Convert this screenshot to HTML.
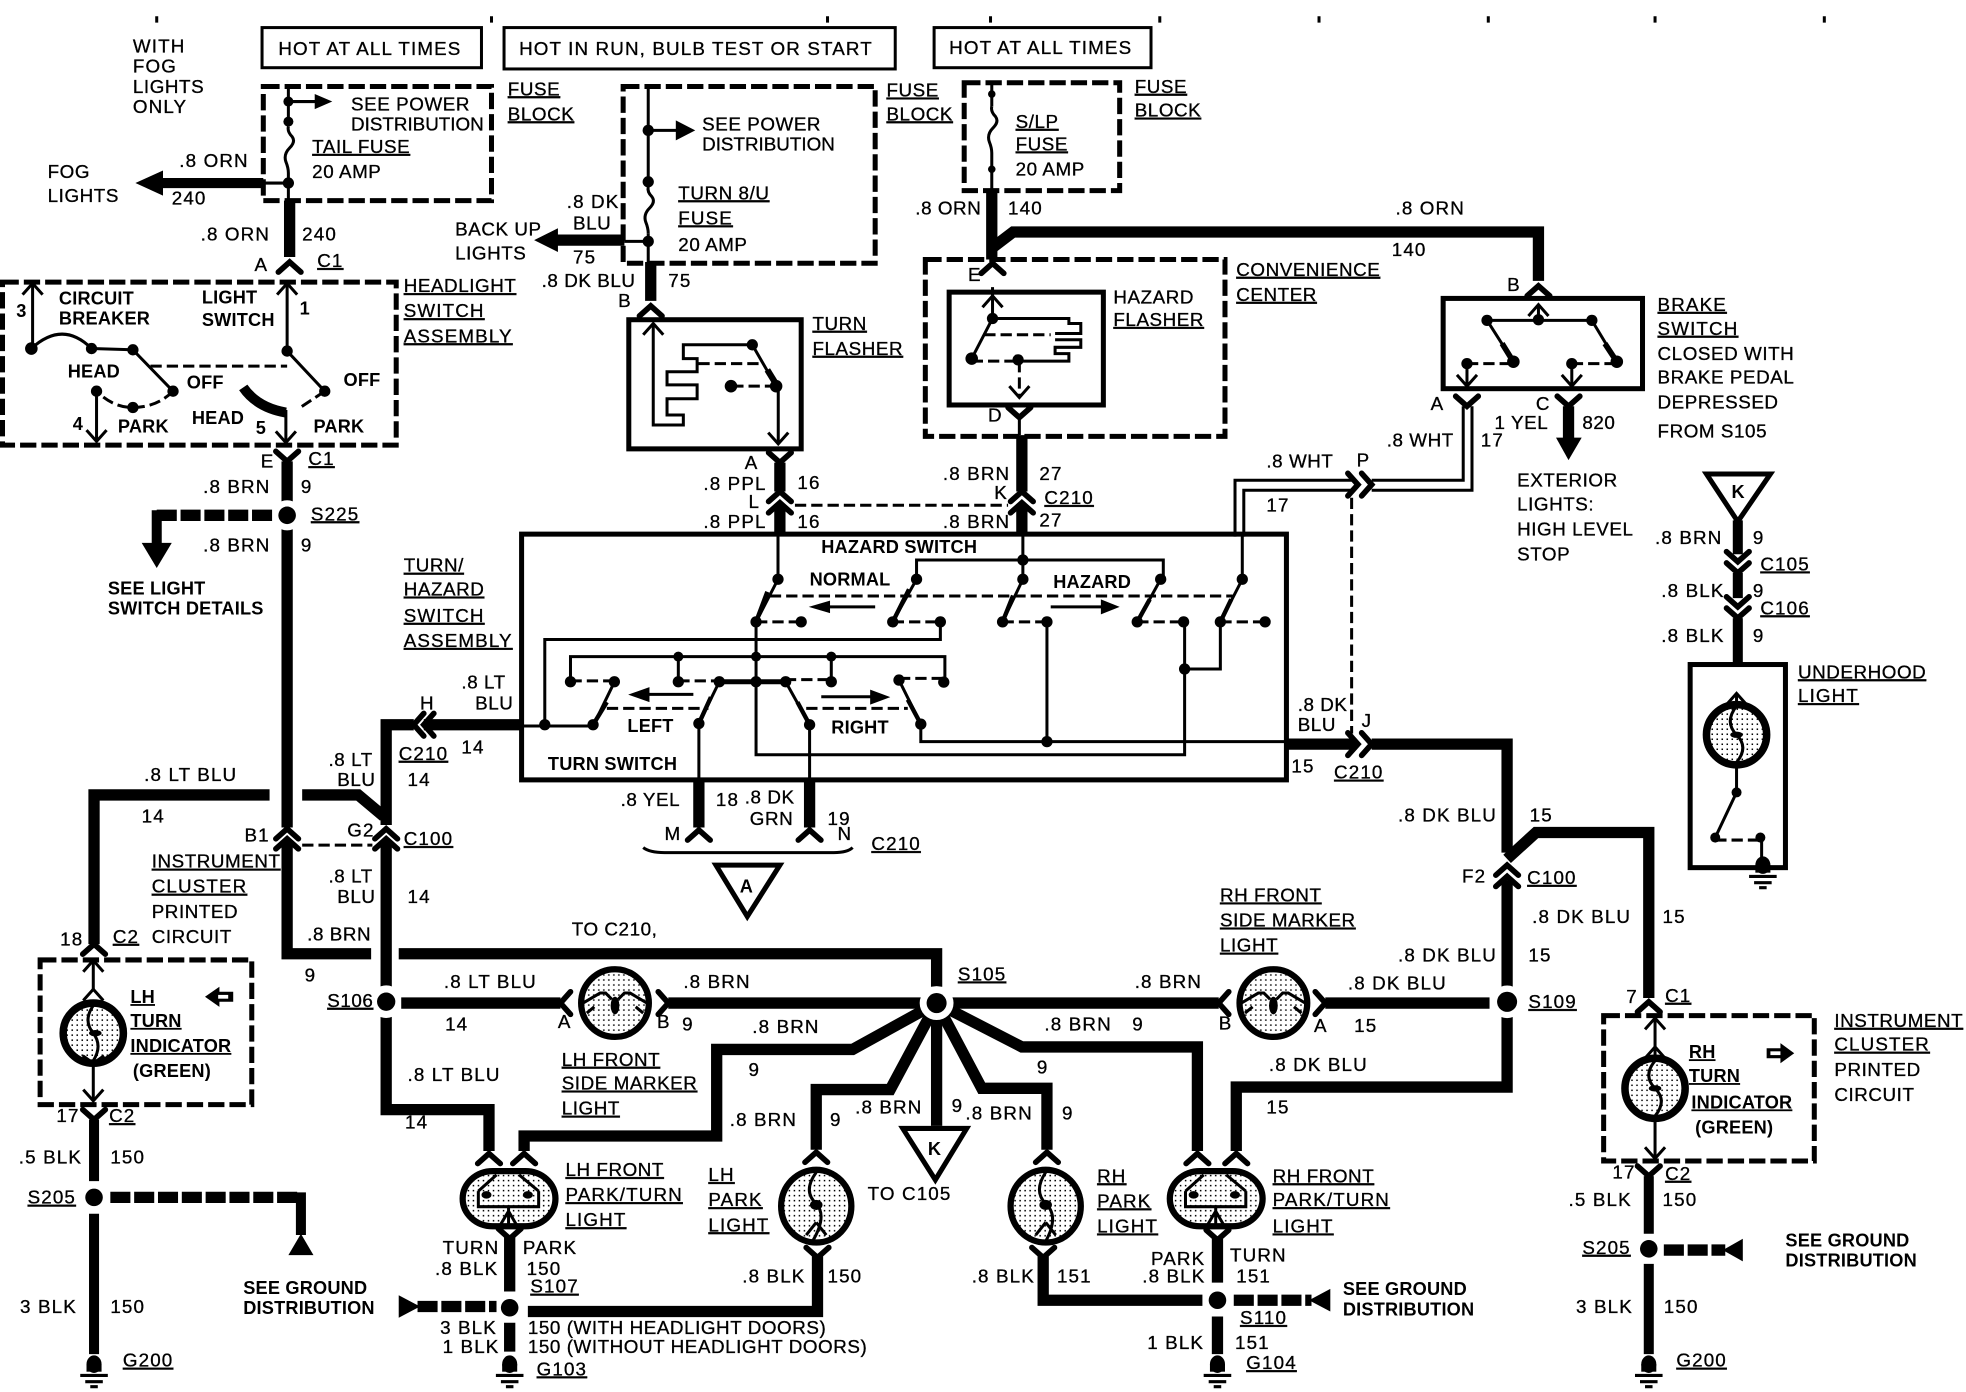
<!DOCTYPE html>
<html><head><meta charset="utf-8"><style>
html,body{margin:0;padding:0;background:#fff}
svg{display:block}
text{font-family:"Liberation Sans",sans-serif;font-size:15px;letter-spacing:.9px;fill:#000;stroke:#000;stroke-width:.25px}
.n{letter-spacing:.45px}
.nn{letter-spacing:0}
.b{font-weight:bold;stroke:none;font-size:14.5px;letter-spacing:.15px}
.u{text-decoration:underline;text-decoration-thickness:2px;text-underline-offset:3px}
.w{fill:none;stroke:#000;stroke-width:9;stroke-linejoin:miter}
.m{fill:none;stroke:#000;stroke-width:8}
.t{fill:none;stroke:#000;stroke-width:2.4}
.bx{fill:none;stroke:#000;stroke-width:4}
.d{fill:none;stroke:#000;stroke-width:4;stroke-dasharray:13 4}
.dt{fill:none;stroke:#000;stroke-width:2.4;stroke-dasharray:9 4}
.hd{fill:none;stroke:#000;stroke-width:9;stroke-dasharray:16 3}
.f{fill:none;stroke:#000;stroke-width:4.5;stroke-linecap:round}
</style></head><body>
<svg width="1966" height="1392" viewBox="0 0 1568 1110.2" xmlns="http://www.w3.org/2000/svg">
<defs>
<path id="fu" class="f" d="M-9,6 L0,-2 L9,6"/>
<path id="fd" class="f" d="M-9,-6 L0,2 L9,-6"/>
<path id="fl" class="f" d="M6,-9 L-2,0 L6,9"/>
<path id="fr" class="f" d="M-6,-9 L2,0 L-6,9"/>
<path id="au" class="t" d="M-8,9 L0,0 L8,9"/>
<path id="ad" class="t" d="M-8,-9 L0,0 L8,-9"/>
<g id="gnd"><ellipse cx="0" cy="-4" rx="6" ry="7"/><rect x="-6" y="-4" width="12" height="6"/><path d="M-11,5H11M-7,10H7M-3,14H3" stroke="#000" stroke-width="2.5" fill="none"/></g>
<pattern id="st" width="4" height="4" patternUnits="userSpaceOnUse"><rect x="1" y="1" width="1.2" height="1.2" fill="#000"/></pattern>
<path id="fz" class="t" d="M0,0 q-1,4 3,8 q3,4 -2,9 q-5,5 -3,11 q2,5 2,9"/>
</defs>

<!-- top ticks -->
<path class="t" stroke-width="1" d="M125,13v5M392,13v5M660,13v5M790,13v5M925,13v5M1052,13v5M1187,13v5M1320,13v5M1455,13v5"/>

<!-- header boxes -->
<rect x="209" y="22" width="175" height="32" class="t"/>
<rect x="402" y="22" width="312" height="33" class="t"/>
<rect x="745" y="22" width="173" height="32" class="t"/>
<text x="222" y="44">HOT AT ALL TIMES</text>
<text x="414" y="44">HOT IN RUN, BULB TEST OR START</text>
<text x="757" y="43">HOT AT ALL TIMES</text>
<text x="106" y="42">WITH</text><text x="106" y="58">FOG</text><text x="106" y="74" class="n">LIGHTS</text><text x="106" y="90">ONLY</text>

<!-- fuse 1 -->
<rect x="210" y="69" width="182" height="91" class="d"/>
<path class="t" d="M230,69V101M230,138V160M230,81H252"/><polygon points="265,81 251,75 251,87"/>
<use href="#fz" x="230" y="101"/>
<circle cx="230" cy="81" r="4"/><circle cx="230" cy="97" r="4"/><circle cx="230" cy="146" r="4.5"/>
<path class="m" d="M210,146H125"/><path class="t" stroke-width="5" d="M210,146H230"/><polygon points="108,146 130,136 130,156"/>
<path class="w" d="M231,160V205"/>
<use href="#fu" x="231" y="211"/>
<text x="280" y="88" class="n">SEE POWER</text><text x="280" y="104" class="nn">DISTRIBUTION</text>
<text x="249" y="122" class="u n">TAIL FUSE</text><text x="249" y="142" class="n">20 AMP</text>
<text x="405" y="76" class="u n">FUSE</text><text x="405" y="96" class="u n">BLOCK</text>
<text x="143" y="133">.8 ORN</text><text x="137" y="163">240</text>
<text x="38" y="142" class="n">FOG</text><text x="38" y="161" class="n">LIGHTS</text>
<text x="160" y="192">.8 ORN</text><text x="241" y="192">240</text>
<text x="203" y="216">A</text><text x="253" y="213" class="u">C1</text>

<!-- headlight switch -->
<rect x="2" y="225" width="314" height="130" class="d" stroke-width="4.5"/>
<path class="t" d="M26,227V276M229,227V280M77,312V352M228,327V353"/>
<use href="#au" x="26" y="226"/><use href="#au" x="229" y="226"/><use href="#ad" x="77" y="352"/><use href="#ad" x="228" y="353"/>
<path class="t" stroke-width="3" d="M25,278 Q50,255 73,278 L106,279 L138,312"/>
<path class="t" stroke-width="3" d="M229,280 L259,312"/>
<path class="dt" stroke-width="3" d="M138,312 Q125,325 106,325 Q90,325 77,312M259,312 L238,326"/>
<path class="dt" d="M120,292H229"/>
<path d="M194,309 Q205,325 228,329" stroke="#000" stroke-width="8" fill="none"/>
<g><circle cx="25" cy="278" r="5"/><circle cx="73" cy="278" r="4.5"/><circle cx="106" cy="279" r="4.5"/><circle cx="138" cy="312" r="4.5"/><circle cx="77" cy="312" r="4.5"/><circle cx="106" cy="325" r="4.5"/><circle cx="229" cy="280" r="4.5"/><circle cx="259" cy="312" r="4.5"/></g>
<text class="b" x="47" y="243">CIRCUIT</text><text class="b" x="47" y="259">BREAKER</text>
<text class="b" x="161" y="242">LIGHT</text><text class="b" x="161" y="260">SWITCH</text>
<text class="b" x="13" y="253">3</text><text class="b" x="239" y="251">1</text>
<text class="b" x="54" y="301">HEAD</text><text class="b" x="149" y="310">OFF</text><text class="b" x="274" y="308">OFF</text>
<text class="b" x="58" y="343">4</text><text class="b" x="94" y="345">PARK</text><text class="b" x="153" y="338">HEAD</text>
<text class="b" x="204" y="346">5</text><text class="b" x="250" y="345">PARK</text>
<text x="208" y="373">E</text><text x="246" y="371" class="u">C1</text>
<text x="322" y="233" class="u n">HEADLIGHT</text><text x="322" y="253" class="u">SWITCH</text><text x="322" y="273" class="u">ASSEMBLY</text>

<!-- E down -->
<use href="#fd" x="229" y="366"/>
<path class="w" d="M229,368V660"/>
<circle cx="229" cy="411" r="12" fill="#fff"/><circle cx="229" cy="411" r="7"/>
<path class="hd" d="M217,411H125"/><path class="m" d="M125,407V436"/><polygon points="113,433 137,433 125,453"/>
<text x="162" y="393">.8 BRN</text><text x="240" y="393">9</text><text x="248" y="415" class="u">S225</text>
<text x="162" y="440">.8 BRN</text><text x="240" y="440">9</text>
<text class="b" x="86" y="474">SEE LIGHT</text><text class="b" x="86" y="490">SWITCH DETAILS</text>

<!-- fuse 2 -->
<rect x="497" y="69" width="201" height="141" class="d"/>
<path class="t" d="M517,69V149M517,186V209M517,104H540"/><polygon points="554.5,104 539,96 539,112"/>
<circle cx="517" cy="104" r="4.5"/><circle cx="517" cy="145" r="4.5"/><circle cx="517" cy="192.5" r="4.5"/>
<use href="#fz" x="517" y="149"/>
<path class="t" d="M498,192.5H517"/>
<path class="w" d="M443,191.5H498"/><polygon points="426,191.5 445,182 445,201"/>
<path class="w" d="M519,209V240"/><use href="#fu" x="519" y="246"/>
<text x="560" y="104" class="n">SEE POWER</text><text x="560" y="120" class="nn">DISTRIBUTION</text>
<text x="541" y="159" class="u n">TURN 8/U</text><text x="541" y="179" class="u">FUSE</text><text x="541" y="200" class="n">20 AMP</text>
<text x="707" y="77" class="u n">FUSE</text><text x="707" y="96" class="u n">BLOCK</text>
<text x="452" y="166">.8 DK</text><text x="457" y="183" class="n">BLU</text>
<text x="363" y="188" class="n">BACK UP</text><text x="363" y="207" class="n">LIGHTS</text><text x="457" y="210">75</text>
<text x="432" y="229" class="n">.8 DK BLU</text><text x="533" y="229">75</text><text x="493" y="245">B</text>

<!-- turn flasher -->
<rect x="501.5" y="255" width="137.5" height="103" class="bx"/>
<path class="t" d="M521,258V339H545V331H532V318H556V307H532V296.5H556V286H545V275H600L619,308M620.7,308V353"/>
<use href="#au" x="521" y="258"/><use href="#ad" x="620.7" y="354"/>
<path class="dt" d="M557,290H605M619,308H583"/>
<circle cx="600" cy="275" r="4.5"/><circle cx="619" cy="308" r="5"/><circle cx="583" cy="308" r="5"/>
<path d="M612,295L620,308" stroke="#000" stroke-width="5"/>
<text x="648" y="263" class="u n">TURN</text><text x="648" y="283" class="u n">FLASHER</text>
<use href="#fd" x="622" y="367"/>
<path class="w" d="M622,369V392"/><use href="#fu" x="622" y="394"/><use href="#fu" x="622" y="403"/><path class="w" d="M622,402V427"/>
<text x="594" y="374">A</text><text x="561" y="391">.8 PPL</text><text x="636" y="390">16</text>
<text x="597" y="405">L</text><text x="561" y="421">.8 PPL</text><text x="636" y="421">16</text>
<path class="dt" d="M634,403H804"/>

<!-- fuse 3 -->
<rect x="769" y="66" width="124" height="86" class="d"/>
<path class="t" d="M791,66V85M791,122V152"/><use href="#fz" x="791" y="85"/><circle cx="791" cy="75" r="3"/><circle cx="791" cy="135" r="3"/>
<path class="w" d="M791,152V207"/><path class="w" d="M791,198L808,185H1227V224"/>
<text x="810" y="102" class="u n">S/LP</text><text x="810" y="120" class="u n">FUSE</text><text x="810" y="140" class="n">20 AMP</text>
<text x="905" y="74" class="u n">FUSE</text><text x="905" y="93" class="u n">BLOCK</text>
<text x="730" y="171" class="n">.8 ORN</text><text x="804" y="171">140</text><text x="1113" y="171">.8 ORN</text><text x="1110" y="204">140</text>
<text x="772" y="224">E</text>

<!-- hazard flasher -->
<rect x="738" y="207" width="239" height="141" class="d" stroke-width="4.5"/>
<rect x="757" y="233" width="123" height="90" class="bx"/>
<use href="#fu" x="791.6" y="212"/>
<path class="t" d="M791.6,229V254"/><use href="#au" x="791.6" y="236"/>
<path class="t" d="M791.6,254H852.5V258H862V266H841.5M841.5,271H862V277H841.5V282H852.5V288H811.5M791.6,254L775,286"/>
<path class="dt" d="M785,267H838M775,288H810M813,288V316"/>
<use href="#ad" x="813" y="317"/>
<circle cx="791.6" cy="254" r="4.5"/><circle cx="775" cy="286" r="5"/><circle cx="812" cy="287" r="4.5"/>
<use href="#fd" x="813" y="331"/><path class="t" d="M813,333V347"/>
<text x="788" y="336">D</text>
<text x="888" y="242" class="n">HAZARD</text><text x="888" y="260" class="u n">FLASHER</text>
<text x="986" y="220" class="u n">CONVENIENCE</text><text x="986" y="240" class="u n">CENTER</text>
<path class="w" d="M815,347V392"/><use href="#fu" x="815" y="394"/><use href="#fu" x="815" y="403"/><path class="w" d="M815,402V427"/>
<text x="752" y="383">.8 BRN</text><text x="829" y="383">27</text><text x="793" y="398">K</text>
<text x="833" y="402" class="u">C210</text><text x="752" y="421">.8 BRN</text><text x="829" y="420">27</text>

<!-- brake switch -->
<rect x="1151" y="238" width="159" height="72" class="bx"/>
<use href="#fu" x="1227" y="230"/><use href="#au" x="1227" y="243"/>
<path class="t" d="M1227,243V255M1186,255.5H1269.6L1289.5,288.5M1186,255.5L1207,288.5M1170,290V307M1253.6,290V307"/>
<path d="M1198,274L1207,288.5M1280,274L1289.5,288.5" stroke="#000" stroke-width="4.5"/>
<path class="dt" d="M1170,290H1207M1253.6,290H1287"/>
<use href="#ad" x="1170" y="308"/><use href="#ad" x="1253.6" y="308"/>
<circle cx="1186" cy="255.5" r="4.5"/><circle cx="1269.6" cy="255.5" r="4.5"/><circle cx="1227" cy="255" r="4.5"/><circle cx="1170" cy="290" r="4.5"/><circle cx="1207" cy="288.5" r="5"/><circle cx="1253.6" cy="290" r="4.5"/><circle cx="1289.5" cy="288.5" r="5"/>
<use href="#fd" x="1170" y="322"/><use href="#fd" x="1251" y="322"/>
<path class="w" d="M1251,324V350"/><polygon points="1241,349 1261.5,349 1251,367"/>
<text x="1202" y="232">B</text><text x="1141" y="327">A</text><text x="1225" y="327">C</text>
<text x="1106" y="356" class="n">.8 WHT</text><text x="1192" y="342" class="n">1 YEL</text><text x="1181" y="356">17</text><text x="1262" y="342" class="n">820</text>
<text x="1322" y="248" class="u">BRAKE</text><text x="1322" y="267" class="u">SWITCH</text><text x="1322" y="287" class="n">CLOSED WITH</text><text x="1322" y="306" class="n">BRAKE PEDAL</text><text x="1322" y="326" class="n">DEPRESSED</text><text x="1322" y="349" class="n">FROM S105</text>
<text x="1210" y="388" class="n">EXTERIOR</text><text x="1210" y="407" class="n">LIGHTS:</text><text x="1210" y="427" class="n">HIGH LEVEL</text><text x="1210" y="447" class="n">STOP</text>
<path class="t" d="M1167,324V383H1094M1174,324V391H1094M985,428V383H1078M992,428V391H1078"/>
<use href="#fr" x="1081" y="386.5"/><use href="#fr" x="1092" y="386.5"/>
<path class="dt" d="M1078,397V585"/>
<text x="1082" y="372">P</text><text x="1010" y="373" class="n">.8 WHT</text><text x="1010" y="408">17</text>

<!-- turn/hazard switch -->
<rect x="416" y="426" width="610" height="196" fill="none" stroke="#000" stroke-width="4"/>
<g class="t">
<path class="t" d="M620.5,426V462L603,496M731,462V446.6H927.8V462M731,462L712,496M815.8,426V462L799.6,496M925.7,462L907,496M990.8,426V462L973.3,496"/>
<path class="t" d="M750,496V510H434.5V578M416,579H473L490,544M455,543.7V523.7H753.6V544M541,523.7V543.7M663,523.7V543.7M603,496V602H944.8V496M944.8,533.6H973.3V496M835,496V591.5M734.4,578V591.5H1025M573.7,543.7L557.4,577V622M626.6,543.7L645.7,578V622M717,542.4L734.4,577.5"/>
<path d="M573.7,543.7H626.6" stroke="#000" stroke-width="4"/>
<path d="M612,472L603,496M725,470L712,496M808,475L799.6,496M917,478L907,496M982,478L973.3,496M484,560L473,578M567,556L557.4,577M636,560L645.7,578M724,558L734.4,577.5" stroke="#000" stroke-width="3.5"/>
<path class="dt" d="M614,475.3H983M603,496H639M712,496H750M799.6,496H835M907,496H944M973.3,496H1009M455,543H490M541,543H573M626,542H663M717,541H752M484,565H565M643,565H724"/>
</g>
<path class="t" stroke-width="3" d="M698,484H660M838,484H880M553,553.8H515M655,555.7H695"/>
<polygon points="645,484 662,479 662,489"/><polygon points="893,484 878,478 878,490"/><polygon points="501,554 518,548 518,560"/><polygon points="710,556 694,550 694,562"/>
<g>
<circle cx="620.5" cy="462" r="4.5"/><circle cx="731" cy="462" r="4.5"/><circle cx="815.8" cy="446.6" r="4.5"/><circle cx="815.8" cy="462" r="4.5"/><circle cx="925.7" cy="462" r="4.5"/><circle cx="990.8" cy="462" r="4.5"/>
<circle cx="603" cy="496" r="4.5"/><circle cx="639" cy="496" r="4.5"/><circle cx="712" cy="496" r="4.5"/><circle cx="750" cy="496" r="4.5"/><circle cx="799.6" cy="496" r="4.5"/><circle cx="835" cy="496" r="4.5"/><circle cx="907" cy="496" r="4.5"/><circle cx="944" cy="496" r="4.5"/><circle cx="973.3" cy="496" r="4.5"/><circle cx="1009" cy="496" r="4.5"/>
<circle cx="541" cy="523.7" r="4"/><circle cx="603" cy="523.7" r="4"/><circle cx="663" cy="523.7" r="4"/>
<circle cx="455" cy="543.7" r="4.5"/><circle cx="490" cy="543.7" r="4.5"/><circle cx="541" cy="543.7" r="4.5"/><circle cx="573.7" cy="543.7" r="4.5"/><circle cx="603" cy="543.7" r="4.5"/><circle cx="626.6" cy="543.7" r="4.5"/><circle cx="663" cy="543.7" r="4.5"/><circle cx="717" cy="542.4" r="4.5"/><circle cx="752.7" cy="544" r="4.5"/>
<circle cx="434.5" cy="578" r="4.5"/><circle cx="473" cy="578" r="4.5"/><circle cx="557.4" cy="577" r="4.5"/><circle cx="645.7" cy="578" r="4.5"/><circle cx="734.4" cy="577.5" r="4.5"/><circle cx="835" cy="591.5" r="4.5"/><circle cx="944.8" cy="533.6" r="4.5"/>
</g>
<text class="b" x="655" y="441">HAZARD SWITCH</text><text class="b" x="645.7" y="467">NORMAL</text><text class="b" x="840" y="469">HAZARD</text>
<text class="b" x="500.4" y="584">LEFT</text><text class="b" x="663" y="585">RIGHT</text><text class="b" x="437" y="614">TURN SWITCH</text>
<text x="322" y="456" class="u n">TURN/</text><text x="322" y="475" class="u n">HAZARD</text><text x="322" y="496" class="u">SWITCH</text><text x="322" y="516" class="u">ASSEMBLY</text>

<!-- H left -->
<path class="w" d="M416,578H338"/><use href="#fl" x="332" y="578"/><use href="#fl" x="340" y="578"/>
<path class="w" d="M330,578H308V658"/>
<text x="368" y="549" class="n">.8 LT</text><text x="379" y="566" class="n">BLU</text><text x="335" y="566">H</text>
<text x="318" y="606" class="u">C210</text><text x="368" y="601">14</text>

<!-- J right -->
<path class="w" d="M1026,593.5H1082"/><use href="#fr" x="1081" y="593.5"/><use href="#fr" x="1092" y="593.5"/>
<path class="w" d="M1094,593.5H1202V680"/>
<path class="w" d="M1202,685L1225,664H1315V796"/>
<use href="#fu" x="1202" y="692"/><use href="#fu" x="1202" y="701"/>
<path class="w" d="M1202,702V867H986V918"/>
<circle cx="1202" cy="799" r="13" fill="#fff"/><circle cx="1202" cy="799" r="8"/>
<text x="1035" y="567" class="n">.8 DK</text><text x="1035" y="583" class="n">BLU</text><text x="1086" y="580">J</text><text x="1064" y="621" class="u">C210</text><text x="1030" y="616">15</text>
<text x="1115" y="655">.8 DK BLU</text><text x="1220" y="655">15</text><text x="1166" y="704">F2</text><text x="1218" y="705" class="u">C100</text>
<text x="1222" y="736">.8 DK BLU</text><text x="1326" y="736">15</text><text x="1115" y="767">.8 DK BLU</text><text x="1219" y="767">15</text>
<text x="1219" y="804" class="u">S109</text><text x="1075" y="789">.8 DK BLU</text><text x="1080" y="823">15</text><text x="1012" y="854">.8 DK BLU</text><text x="1010" y="888">15</text>

<!-- bottom of switch -->
<path class="w" d="M557.4,622V660M645.7,622V660"/><use href="#fu" x="557.4" y="664"/><use href="#fu" x="645.7" y="664"/>
<text x="495" y="643" class="n">.8 YEL</text><text x="571" y="643">18</text><text x="594" y="641" class="n">.8 DK</text><text x="598" y="658" class="n">GRN</text><text x="660" y="658">19</text><text x="530" y="670">M</text><text x="668" y="670">N</text><text x="695" y="678" class="u">C210</text>
<path class="t" d="M513,676Q518,680 530,680H665Q676,680 680,676"/>
<polygon points="571,690 622,690 596,731" fill="#fff" stroke="#000" stroke-width="4"/>
<text class="b" x="590" y="712">A</text>

<!-- C100 area -->
<path class="w" d="M75,753V634H215M241,634H285.7L306,651"/>
<use href="#fu" x="229" y="663"/><use href="#fu" x="229" y="671"/><use href="#fu" x="308" y="663"/><use href="#fu" x="308" y="671"/>
<path class="dt" d="M241,674H297"/>
<path class="w" d="M229,670V760.7H296M318,760.7H747V787"/>
<path class="w" d="M308,670V885H390V918"/>
<text x="115" y="623">.8 LT BLU</text><text x="113" y="656">14</text><text x="262" y="611" class="n">.8 LT</text><text x="269" y="627" class="n">BLU</text><text x="325" y="627">14</text>
<text x="195" y="671">B1</text><text x="277" y="667">G2</text><text x="322" y="674" class="u">C100</text>
<text x="121" y="692" class="u n">INSTRUMENT</text><text x="121" y="712" class="u">CLUSTER</text><text x="121" y="732" class="n">PRINTED</text><text x="121" y="752" class="n">CIRCUIT</text>
<text x="262" y="704" class="n">.8 LT</text><text x="269" y="720" class="n">BLU</text><text x="325" y="720">14</text><text x="245" y="750" class="n">.8 BRN</text><text x="243" y="783">9</text>
<text x="456" y="746" class="n">TO C210,</text><text x="764" y="782" class="u">S105</text>

<!-- LH indicator -->
<use href="#fu" x="75" y="755"/><rect x="32" y="765.6" width="168.8" height="115.4" class="d"/>
<path class="t" d="M74.4,766V790M74.4,845V877"/><use href="#au" x="74.4" y="766"/><use href="#au" x="74.4" y="789"/><use href="#ad" x="74.4" y="878"/>
<circle cx="74.4" cy="824" r="24" fill="url(#st)" stroke="#000" stroke-width="6"/>
<path class="t" d="M74.4,802Q66,814 74.4,824Q82,834 74.4,846"/><ellipse cx="76" cy="824" rx="5" ry="2.5"/>
<path d="M74.4,848L66,842M74.4,848L83,842" class="t"/>
<polygon points="163.5,795 175,787 175,791 186,791 186,799 175,799 175,803"/><rect x="174" y="793.5" width="8" height="3" fill="#fff"/>
<text x="48" y="754">18</text><text x="90" y="752" class="u">C2</text>
<text class="b u" x="104" y="800">LH</text><text class="b u" x="104" y="819" >TURN</text><text class="b u" x="104" y="839">INDICATOR</text><text class="b" x="106" y="859">(GREEN)</text>
<text x="45" y="895">17</text><text x="87" y="895" class="u">C2</text>
<use href="#fd" x="75" y="891"/>
<path class="m" d="M75,893V942M75,968V1080"/><circle cx="75" cy="955" r="7"/>
<path class="hd" d="M88,955H240"/><path class="m" d="M240,951V985"/><polygon points="230,1001 250,1001 240,984"/>
<use href="#gnd" x="75" y="1092"/>
<text x="15" y="928">.5 BLK</text><text x="88" y="928">150</text><text x="22" y="960" class="u">S205</text><text x="16" y="1047">3 BLK</text><text x="88" y="1047">150</text><text x="98" y="1090" class="u">G200</text>
<text class="b" x="194" y="1032">SEE GROUND</text><text class="b" x="194" y="1048">DISTRIBUTION</text>

<!-- side markers row -->
<circle cx="308" cy="798.9" r="13" fill="#fff"/><circle cx="308" cy="798.9" r="7.3"/>
<path class="w" d="M320,800H447M533,800H747M747,800H972M1057,800H1188"/>
<use href="#fl" x="449" y="800"/><use href="#fr" x="531" y="800"/><use href="#fl" x="974" y="800"/><use href="#fr" x="1055" y="800"/>
<g fill="url(#st)" stroke="#000" stroke-width="5"><circle cx="490.5" cy="800" r="27"/><circle cx="1015.6" cy="800" r="27"/></g>
<path class="t" d="M465,800L478.6,792H483L488,797M493,797L498,792H502.5L516,800M468,808L474,803M513,808L507,803M990,800L1003.6,792H1008L1013,797M1018,797L1023,792H1027.5L1041,800M993,808L999,803M1038,808L1032,803"/>
<ellipse cx="490.5" cy="802" rx="3.5" ry="7"/><ellipse cx="1015.6" cy="802" rx="3.5" ry="7"/>
<text x="261" y="803" class="u n">S106</text><text x="354" y="788">.8 LT BLU</text><text x="355" y="822">14</text><text x="445" y="820">A</text><text x="524" y="820">B</text><text x="544" y="822">9</text><text x="545" y="788">.8 BRN</text>
<text x="600" y="824">.8 BRN</text><text x="597" y="858">9</text><text x="905" y="788">.8 BRN</text><text x="833" y="822">.8 BRN</text><text x="903" y="822">9</text><text x="827" y="856">9</text><text x="972" y="821">B</text><text x="1048" y="823">A</text>
<text x="325" y="862">.8 LT BLU</text><text x="323" y="900">14</text>
<text x="448" y="850" class="u n">LH FRONT</text><text x="448" y="869" class="u n">SIDE MARKER</text><text x="448" y="889" class="u n">LIGHT</text>
<text x="973" y="719" class="u n">RH FRONT</text><text x="973" y="739" class="u n">SIDE MARKER</text><text x="973" y="759" class="u n">LIGHT</text>

<!-- hub radial wires -->
<path class="w" d="M747,800L680,837H571.6V906H418V918"/>
<path class="w" d="M747,800L710,869H651V917"/>
<path class="w" d="M747,800V898"/>
<path class="w" d="M747,800L783,868H835V917"/>
<path class="w" d="M747,800L815,835H955V918"/>
<circle cx="747" cy="800" r="13.5" fill="#fff"/><circle cx="747" cy="800" r="8"/>
<polygon points="720,900 771,900 746,941" fill="#fff" stroke="#000" stroke-width="4"/>
<text class="b" x="740" y="921">K</text>
<text x="582" y="898">.8 BRN</text><text x="662" y="898">9</text><text x="682" y="888">.8 BRN</text><text x="759" y="887">9</text><text x="770" y="893">.8 BRN</text><text x="847" y="893">9</text>

<!-- lamps -->
<use href="#fu" x="390" y="922"/><use href="#fu" x="418" y="922"/><use href="#fu" x="651" y="921"/><use href="#fu" x="835" y="921"/><use href="#fu" x="955" y="922"/><use href="#fu" x="986" y="922"/>
<g fill="url(#st)" stroke="#000" stroke-width="5">
<rect x="369" y="934" width="74" height="44" rx="24" ry="22"/>
<ellipse cx="651" cy="962" rx="28" ry="29"/>
<ellipse cx="834" cy="962" rx="28" ry="29"/>
<rect x="933" y="934" width="74" height="44" rx="24" ry="22"/>
</g>
<path class="t" d="M381.5,950V962.4H429.6V950M381.5,950L396,937M429.6,950L414,937M405.6,962.4V977M399,977L405.6,966L412,977M945.5,950V962.4H993.6V950M945.5,950L960,937M993.6,950L978,937M969.6,962.4V977M963,977L969.6,966L976,977"/>
<ellipse cx="388" cy="953" rx="4" ry="3"/><ellipse cx="421" cy="953" rx="4" ry="3"/><ellipse cx="952" cy="953" rx="4" ry="3"/><ellipse cx="985" cy="953" rx="4" ry="3"/>
<path class="t" d="M651,935Q640,950 651,960Q660,970 648,990M834,935Q824,950 834,960Q845,970 834,990M643,985L651,975M659,985L651,975M826,985L834,975M842,985L834,975"/>
<ellipse cx="651" cy="961" rx="5" ry="4"/><ellipse cx="834" cy="961" rx="5" ry="4"/>
<use href="#fd" x="406.5" y="986"/><use href="#fd" x="652" y="1001"/><use href="#fd" x="832" y="1001"/><use href="#fd" x="971" y="987"/>
<path class="w" d="M406.5,987V1030M652,1002V1046H421M832,1002V1037H959M971,988V1023"/>
<ellipse cx="406.5" cy="1043" rx="7" ry="7"/><ellipse cx="971" cy="1037" rx="7" ry="7"/>
<path class="hd" d="M333,1042H396"/><polygon points="318,1033 318,1051 335,1042"/>
<path class="hd" d="M984,1037H1046"/><polygon points="1061,1028 1061,1046 1044,1037"/>
<path class="w" d="M406.5,1055V1078M971,1050V1080"/>
<use href="#gnd" x="406.5" y="1092"/><use href="#gnd" x="971" y="1092"/>
<text x="451" y="938" class="u n">LH FRONT</text><text x="451" y="958" class="u">PARK/TURN</text><text x="451" y="978" class="u">LIGHT</text>
<text x="565" y="942" class="u">LH</text><text x="565" y="962" class="u">PARK</text><text x="565" y="982" class="u">LIGHT</text><text x="692" y="957">TO C105</text>
<text x="875" y="943" class="u">RH</text><text x="875" y="963" class="u">PARK</text><text x="875" y="983" class="u">LIGHT</text>
<text x="1015" y="943" class="u n">RH FRONT</text><text x="1015" y="962" class="u">PARK/TURN</text><text x="1015" y="983" class="u">LIGHT</text>
<text x="353" y="1000">TURN</text><text x="417" y="1000">PARK</text><text x="347" y="1017">.8 BLK</text><text x="420" y="1017">150</text><text x="423" y="1031" class="u">S107</text>
<text x="351" y="1064">3 BLK</text><text x="353" y="1079">1 BLK</text><text x="421" y="1064" class="n">150 (WITH HEADLIGHT DOORS)</text><text x="421" y="1079" class="n">150 (WITHOUT HEADLIGHT DOORS)</text><text x="428" y="1097" class="u">G103</text>
<text x="592" y="1023">.8 BLK</text><text x="660" y="1023">150</text><text x="775" y="1023">.8 BLK</text><text x="843" y="1023">151</text>
<text x="918" y="1009">PARK</text><text x="981" y="1006">TURN</text><text x="911" y="1023">.8 BLK</text><text x="986" y="1023">151</text>
<text x="989" y="1056" class="u">S110</text><text x="915" y="1076">1 BLK</text><text x="985" y="1076">151</text><text x="994" y="1092" class="u">G104</text>
<text class="b" x="1071" y="1033">SEE GROUND</text><text class="b" x="1071" y="1049">DISTRIBUTION</text>

<!-- RH indicator -->
<use href="#fu" x="1315" y="801"/>
<rect x="1279" y="810" width="168" height="116" class="d"/>
<path class="t" d="M1320,812V844M1320,892V925"/><use href="#au" x="1320" y="812"/><use href="#au" x="1320" y="835"/><use href="#ad" x="1320" y="924"/>
<circle cx="1320" cy="868" r="24" fill="url(#st)" stroke="#000" stroke-width="6"/>
<path class="t" d="M1320,846Q1310,858 1320,868Q1330,878 1320,890"/><ellipse cx="1320" cy="868" rx="5" ry="2.5"/>
<polygon points="1431,840 1420,832 1420,836 1409,836 1409,844 1420,844 1420,848"/><rect x="1412" y="838.5" width="8" height="3" fill="#fff"/>
<text x="1297" y="800">7</text><text x="1328" y="799" class="u">C1</text>
<text class="b u" x="1347" y="844">RH</text><text class="b u" x="1347" y="863">TURN</text><text class="b u" x="1349" y="884">INDICATOR</text><text class="b" x="1352" y="904">(GREEN)</text>
<text x="1463" y="819" class="u n">INSTRUMENT</text><text x="1463" y="838" class="u">CLUSTER</text><text x="1463" y="858" class="n">PRINTED</text><text x="1463" y="878" class="n">CIRCUIT</text>
<text x="1286" y="940">17</text><text x="1328" y="941" class="u">C2</text>
<use href="#fd" x="1315" y="936"/>
<path class="m" d="M1315,938V984M1315,1008V1080"/><circle cx="1315" cy="996" r="7"/>
<path class="hd" d="M1327,997H1376"/><polygon points="1374,997 1390,988 1390,1006"/>
<use href="#gnd" x="1315" y="1092"/>
<text x="1251" y="962">.5 BLK</text><text x="1326" y="962">150</text><text x="1262" y="1000" class="u">S205</text><text x="1257" y="1047">3 BLK</text><text x="1327" y="1047">150</text><text x="1337" y="1090" class="u">G200</text>
<text class="b" x="1424" y="994">SEE GROUND</text><text class="b" x="1424" y="1010">DISTRIBUTION</text>

<!-- underhood -->
<polygon points="1361,378 1412,378 1386,416" fill="#fff" stroke="#000" stroke-width="4"/>
<text class="b" x="1381" y="397">K</text>
<path class="m" d="M1386,415V442"/><use href="#fd" x="1386" y="446"/><use href="#fd" x="1386" y="455"/>
<path class="m" d="M1386,457V477"/><use href="#fd" x="1386" y="482"/><use href="#fd" x="1386" y="491"/>
<path class="m" d="M1386,493V530"/>
<rect x="1348" y="530" width="76" height="162" class="bx"/>
<use href="#au" x="1385" y="553"/>
<circle cx="1385" cy="586" r="24" fill="url(#st)" stroke="#000" stroke-width="6"/>
<path class="t" d="M1385,553V565M1385,563Q1375,576 1385,586Q1395,596 1385,608M1385,608V632L1368,668"/>
<ellipse cx="1385" cy="586" rx="5" ry="2.5"/><circle cx="1385" cy="632" r="4"/><circle cx="1368" cy="668" r="4"/><circle cx="1404" cy="668" r="4"/>
<path class="dt" d="M1368,670H1404"/><path class="t" d="M1405,668V692"/>
<use href="#gnd" x="1406" y="694"/>
<text x="1320" y="434">.8 BRN</text><text x="1398" y="434">9</text><text x="1404" y="455" class="u">C105</text>
<text x="1325" y="476">.8 BLK</text><text x="1398" y="476">9</text><text x="1404" y="490" class="u">C106</text>
<text x="1325" y="512">.8 BLK</text><text x="1398" y="512">9</text>
<text x="1434" y="541" class="u n">UNDERHOOD</text><text x="1434" y="560" class="u">LIGHT</text>
</svg>
</body></html>
